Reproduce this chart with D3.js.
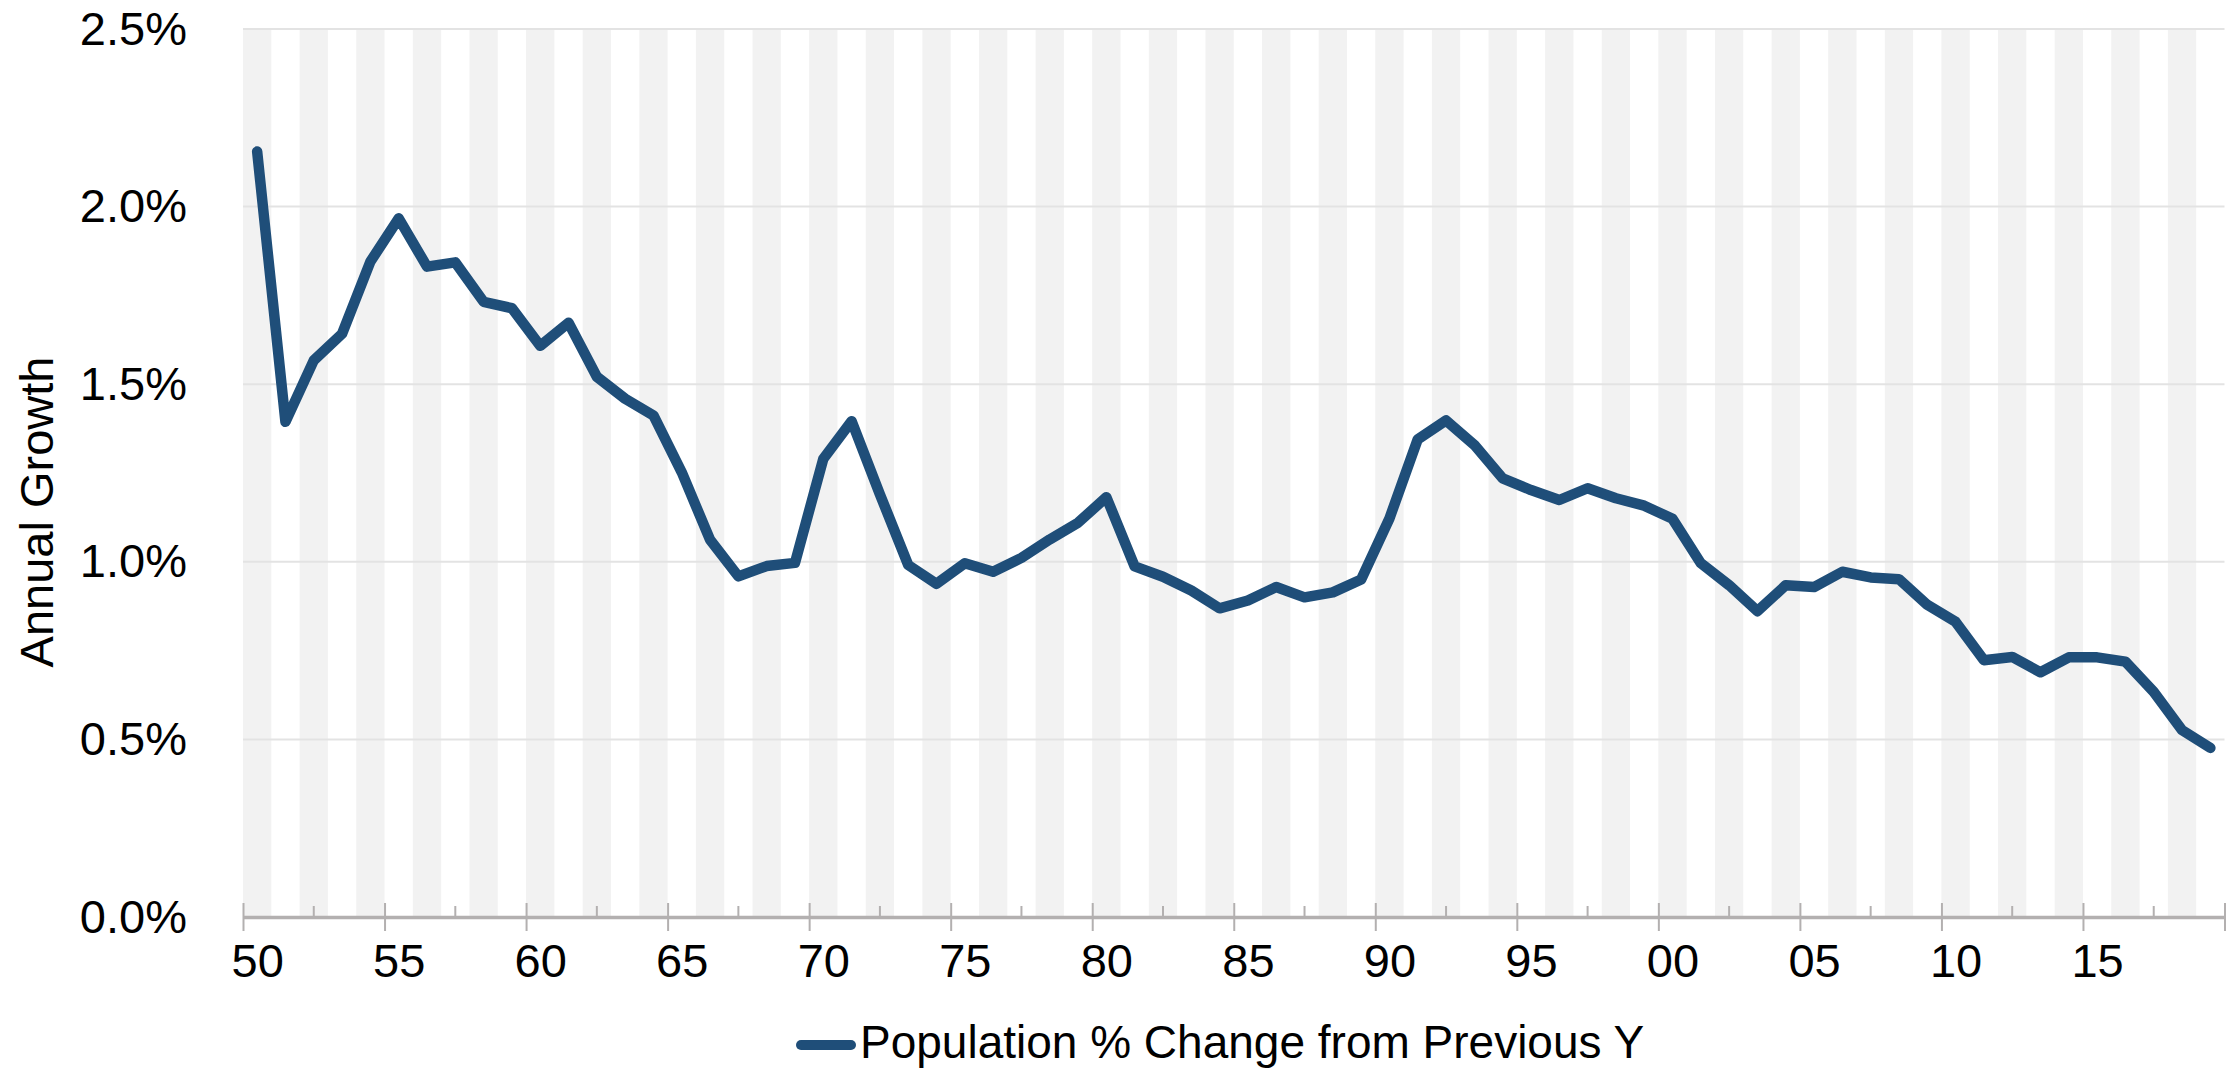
<!DOCTYPE html>
<html>
<head>
<meta charset="utf-8">
<script src="https://cdn.jsdelivr.net/npm/d3@7"></script>
<style>
  html, body { margin: 0; padding: 0; background: #fff; }
  svg { display: block; font-family: "Liberation Sans", Arial, sans-serif; }
</style>
</head>
<body>
<svg id="chart" width="2237" height="1069"></svg>
<script>
// Annual population growth, 1950–2019 (percent change from previous year)
const years = d3.range(1950, 2020);
const growth = [
  2.155, 1.394, 1.567, 1.642, 1.845, 1.967, 1.831, 1.843, 1.732, 1.714,
  1.608, 1.673, 1.521, 1.459, 1.412, 1.252, 1.062, 0.959, 0.988, 0.997,
  1.290, 1.396, 1.190, 0.991, 0.938, 0.996, 0.972, 1.011, 1.063, 1.110,
  1.182, 0.987, 0.958, 0.919, 0.869, 0.891, 0.929, 0.900, 0.914, 0.950,
  1.122, 1.345, 1.398, 1.329, 1.235, 1.202, 1.174, 1.207, 1.179, 1.158,
  1.121, 0.996, 0.934, 0.861, 0.934, 0.929, 0.972, 0.956, 0.951, 0.879,
  0.831, 0.723, 0.732, 0.689, 0.731, 0.731, 0.719, 0.634, 0.526, 0.476
];
const yTicks = [0, 0.5, 1.0, 1.5, 2.0, 2.5];
const xMajorTicks = d3.range(1950, 2021, 5);
const xMinorTicks = d3.range(1952.5, 2020, 5);
const seriesName = "Population % Change from Previous Y";
const yTitle = "Annual Growth";

const data = years.map((yr, i) => ({ year: yr, value: growth[i] }));

const svg = d3.select("#chart");
const plotLeft = 243, plotRight = 2224.5, plotTop = 29, plotBottom = 917;

// Year edges on a linear scale; each year occupies one band
const x = d3.scaleLinear().domain([1950, 2020]).range([plotLeft, plotRight]);
const bw = x(1951) - x(1950);
const y = d3.scaleLinear().domain([0, 2.5]).range([plotBottom, plotTop]);

// Alternating year bands
svg.append("g")
  .selectAll("rect")
  .data(years.filter(yr => yr % 2 === 0))
  .join("rect")
  .attr("x", d => x(d))
  .attr("y", plotTop)
  .attr("width", bw)
  .attr("height", plotBottom - plotTop)
  .attr("fill", "#f2f2f2");

// Horizontal gridlines
svg.append("g")
  .selectAll("line")
  .data(yTicks.filter(v => v > 0))
  .join("line")
  .attr("x1", plotLeft).attr("x2", plotRight)
  .attr("y1", d => y(d)).attr("y2", d => y(d))
  .attr("stroke", "#e3e3e3")
  .attr("stroke-width", 2);

// Y axis labels
const yAxis = svg.append("g")
  .attr("transform", `translate(${plotLeft},0)`)
  .call(d3.axisLeft(y).tickValues(yTicks).tickSize(0).tickPadding(56)
    .tickFormat(d => d3.format(".1f")(d) + "%"));
yAxis.select(".domain").remove();
yAxis.selectAll("text")
  .attr("font-size", 47)
  .attr("fill", "#000")
  .attr("font-family", "Liberation Sans, Arial, sans-serif");

// X axis: ticks on year edges, labels centred in the year band
const xAxis = svg.append("g")
  .attr("transform", `translate(0,${plotBottom})`)
  .call(d3.axisBottom(x).tickValues(xMajorTicks).tickSizeOuter(0)
    .tickFormat(d => d < 2020 ? String(d % 100).padStart(2, "0") : ""));
xAxis.select(".domain")
  .attr("stroke", "#b3b0b0")
  .attr("stroke-width", 3.5);
xAxis.selectAll(".tick line")
  .attr("y1", -14).attr("y2", 14)
  .attr("stroke", "#b3b0b0")
  .attr("stroke-width", 2);
xAxis.selectAll(".tick text")
  .attr("x", bw / 2)
  .attr("y", 60)
  .attr("dy", 0)
  .attr("font-size", 47)
  .attr("fill", "#000")
  .attr("font-family", "Liberation Sans, Arial, sans-serif");

// Minor ticks
svg.append("g")
  .selectAll("line")
  .data(xMinorTicks)
  .join("line")
  .attr("x1", d => x(d)).attr("x2", d => x(d))
  .attr("y1", plotBottom - 11).attr("y2", plotBottom)
  .attr("stroke", "#b3b0b0")
  .attr("stroke-width", 2);

// Growth line
const line = d3.line()
  .x(d => x(d.year) + bw / 2)
  .y(d => y(d.value));
svg.append("path")
  .datum(data)
  .attr("d", line)
  .attr("fill", "none")
  .attr("stroke", "#1f4e79")
  .attr("stroke-width", 10.5)
  .attr("stroke-linejoin", "round")
  .attr("stroke-linecap", "round");

// Y axis title
svg.append("text")
  .attr("transform", "translate(53,512) rotate(-90)")
  .attr("text-anchor", "middle")
  .attr("font-size", 47)
  .attr("fill", "#000")
  .text(yTitle);

// Legend
const legend = svg.append("g");
legend.append("line")
  .attr("x1", 801).attr("x2", 851)
  .attr("y1", 1045).attr("y2", 1045)
  .attr("stroke", "#1f4e79")
  .attr("stroke-width", 10)
  .attr("stroke-linecap", "round");
legend.append("text")
  .attr("x", 860)
  .attr("y", 1058)
  .attr("font-size", 46)
  .attr("fill", "#000")
  .text(seriesName);
</script>
</body>
</html>
